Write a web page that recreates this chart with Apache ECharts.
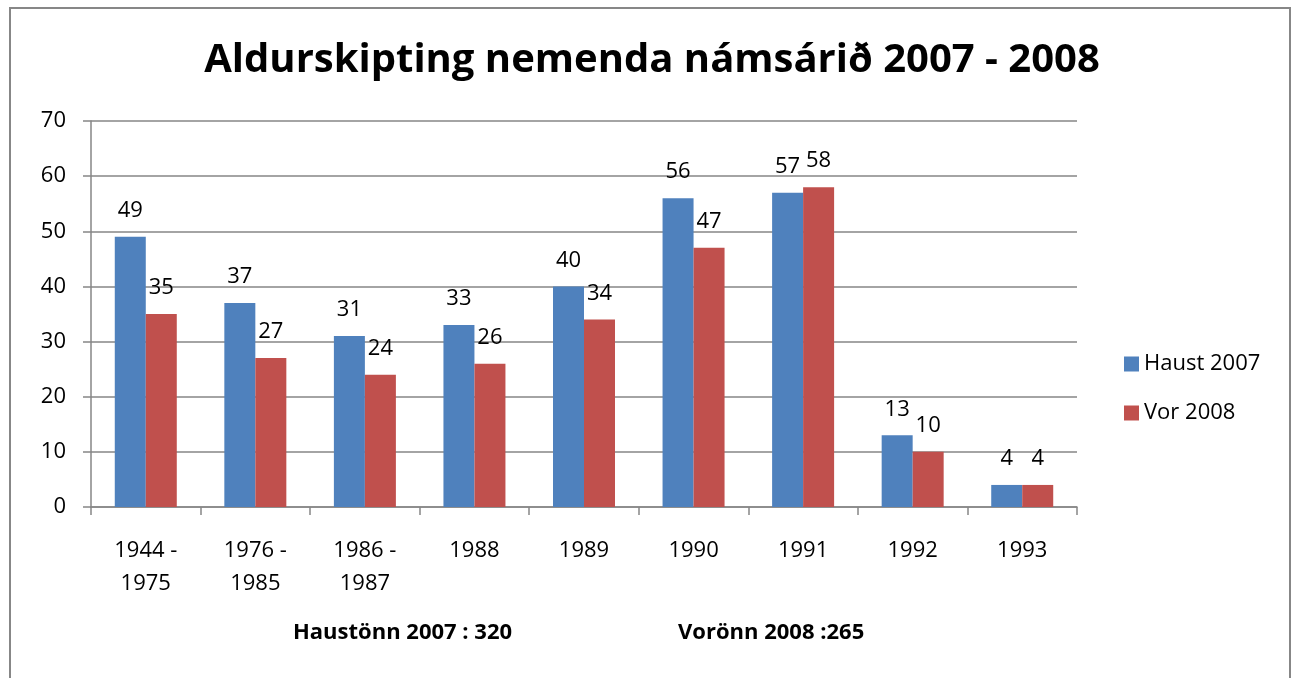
<!DOCTYPE html>
<html>
<head>
<meta charset="utf-8">
<script src="https://cdn.jsdelivr.net/npm/echarts@6/dist/echarts.min.js"></script>
<style>
  html, body { margin: 0; padding: 0; background: #fff; }
  #chart { width: 1297px; height: 678px; }
</style>
</head>
<body>
<div id="chart"></div>
<script>
const categories = ['1944 -\n1975', '1976 -\n1985', '1986 -\n1987', '1988', '1989', '1990', '1991', '1992', '1993'];
const haust2007 = [49, 37, 31, 33, 40, 56, 57, 13, 4];
const vor2008 = [35, 27, 24, 26, 34, 47, 58, 10, 4];
const seriesNames = ['Haust 2007', 'Vor 2008'];
const yTicks = { min: 0, max: 70, interval: 10 };
const totals = ['Haustönn 2007 : 320', 'Vorönn 2008 :265'];

const FONT = 'Open Sans';

const getOption = () => {
    return {
        color: ['#4F81BD', '#C0504D'],
        textStyle: { fontFamily: FONT, color: '#000' },
        title: {
            text: 'Aldurskipting nemenda námsárið 2007 - 2008',
            left: 647,
            textAlign: 'center',
            top: 36,
            textStyle: {
                fontFamily: FONT,
                fontSize: 40,
                fontWeight: 'bold',
                color: '#000'
            }
        },
        legend: {
            orient: 'vertical',
            left: 1119,
            top: 348,
            itemWidth: 15,
            itemHeight: 15,
            itemGap: 27,
            icon: 'rect',
            textStyle: { fontFamily: FONT, fontSize: 22, color: '#000' },
            data: seriesNames
        },
        grid: {
            left: 91,
            right: 220,
            top: 121,
            bottom: 171,
            containLabel: false
        },
        xAxis: {
            type: 'category',
            data: categories,
            axisLine: { lineStyle: { color: '#868686', width: 1.5 } },
            axisTick: { show: true, length: 8, lineStyle: { color: '#868686', width: 1.5 } },
            axisLabel: {
                fontFamily: FONT,
                fontSize: 22,
                color: '#000',
                margin: 27,
                lineHeight: 33,
                interval: 0
            }
        },
        yAxis: {
            type: 'value',
            min: yTicks.min,
            max: yTicks.max,
            interval: yTicks.interval,
            axisLine: { show: true, lineStyle: { color: '#868686', width: 1.5 } },
            axisTick: { show: true, length: 8, lineStyle: { color: '#868686', width: 1.5 } },
            splitLine: { lineStyle: { color: '#868686', width: 1.5 } },
            axisLabel: {
                fontFamily: FONT,
                fontSize: 22,
                color: '#000',
                margin: 25
            }
        },
        series: [
            {
                name: seriesNames[0],
                type: 'bar',
                data: haust2007,
                barWidth: 31,
                barGap: '0%',
                label: {
                    show: true,
                    position: 'top',
                    distance: 15,
                    fontFamily: FONT,
                    fontSize: 22,
                    color: '#000'
                }
            },
            {
                name: seriesNames[1],
                type: 'bar',
                data: vor2008,
                barWidth: 31,
                barGap: '0%',
                label: {
                    show: true,
                    position: 'top',
                    distance: 15,
                    fontFamily: FONT,
                    fontSize: 22,
                    color: '#000'
                }
            }
        ],
        graphic: [
            {
                type: 'rect',
                shape: { x: 10, y: 8, width: 1280, height: 700 },
                style: { fill: 'none', stroke: '#878787', lineWidth: 2 },
                silent: true
            },
            {
                type: 'text',
                left: 293,
                top: 622,
                style: {
                    text: totals[0],
                    fontFamily: FONT,
                    fontSize: 22,
                    fontWeight: 'bold',
                    fill: '#000'
                }
            },
            {
                type: 'text',
                left: 678,
                top: 622,
                style: {
                    text: totals[1],
                    fontFamily: FONT,
                    fontSize: 22,
                    fontWeight: 'bold',
                    fill: '#000'
                }
            }
        ]
    };
};

window.addEventListener('load', () => {
    const chart = echarts.init(document.getElementById('chart'));
    chart.setOption(getOption());
});
</script>
</body>
</html>
